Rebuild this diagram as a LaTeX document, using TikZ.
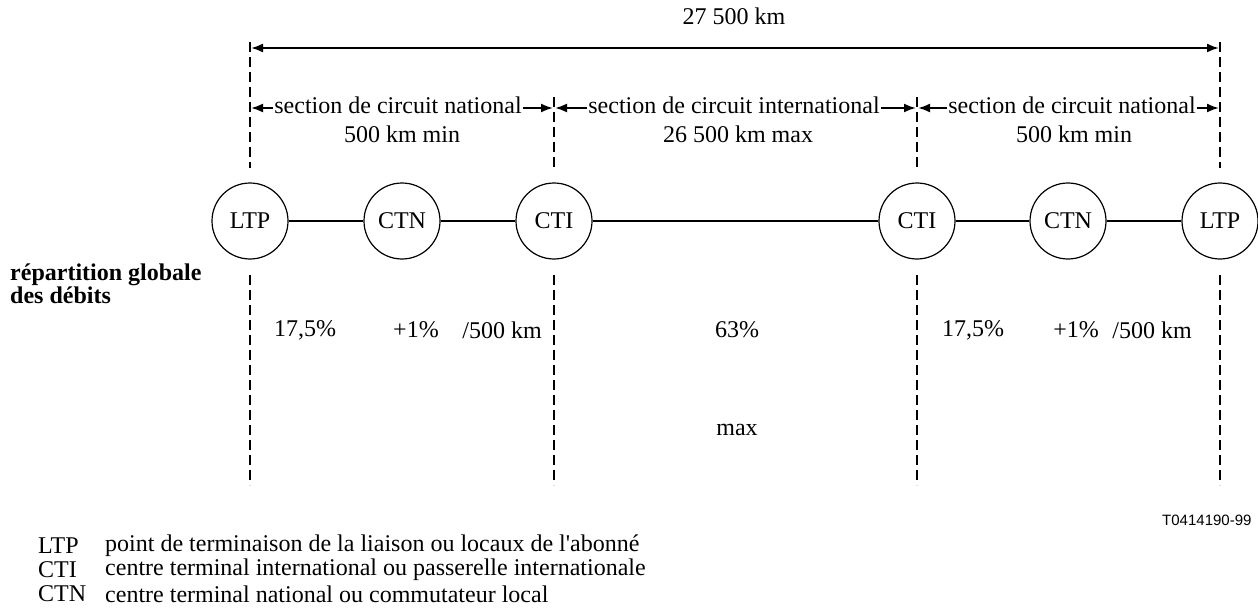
\documentclass[tikz,border=0pt]{standalone}
\usepackage{fontspec}
\setmainfont{Liberation Serif}
\setsansfont{Liberation Sans}
\usetikzlibrary{arrows.meta}
\begin{document}
\begin{tikzpicture}[x=1pt,y=-1pt,
  font=\fontsize{24}{27}\selectfont,
  station/.style={circle,draw,line width=1.2pt,minimum size=76pt,inner sep=0pt},
  link/.style={line width=2pt},
  guide/.style={line width=2pt,dash pattern=on 10pt off 5pt},
  dim/.style={line width=2pt,-{Latex[length=12pt,width=9pt]}},
  dimboth/.style={line width=2pt,{Latex[length=12pt,width=9pt]}-{Latex[length=12pt,width=9pt]}},
  sec/.style={inner sep=1pt}]
\useasboundingbox (0,0) rectangle (1258,615);
% stations
\node[station] (ltpL) at (250,221) {LTP};
\node[station] (ctnL) at (402,221) {CTN};
\node[station] (ctiL) at (554,221) {CTI};
\node[station] (ctiR) at (917,221) {CTI};
\node[station] (ctnR) at (1068,221) {CTN};
\node[station] (ltpR) at (1220,221) {LTP};
\draw[link] (ltpL) -- (ctnL);
\draw[link] (ctnL) -- (ctiL);
\draw[link] (ctiL) -- (ctiR);
\draw[link] (ctiR) -- (ctnR);
\draw[link] (ctnR) -- (ltpR);
% guide coordinates
\coordinate (gA1) at (250,42);  \coordinate (gA2) at (250,168);
\coordinate (gA3) at (250,275); \coordinate (gA4) at (250,485);
\coordinate (gB1) at (554,97);  \coordinate (gB2) at (554,168);
\coordinate (gB3) at (554,275); \coordinate (gB4) at (554,485);
\coordinate (gC1) at (917,97);  \coordinate (gC2) at (917,168);
\coordinate (gC3) at (917,275); \coordinate (gC4) at (917,485);
\coordinate (gD1) at (1220,42);  \coordinate (gD2) at (1220,168);
\coordinate (gD3) at (1220,275); \coordinate (gD4) at (1220,485);
\foreach \g in {A,B,C,D}{
  \draw[guide] (g\g1) -- (g\g2);
  \draw[guide] (g\g3) -- (g\g4);
}
% overall dimension
\coordinate (topL) at (251,48);
\coordinate (topR) at (1219,48);
\draw[dimboth] (topL) -- (topR);
\node (total) at (734,16) {27 500 km};
% section dimensions
\node[sec] (secL) at (398,105) {section de circuit national};
\node[sec] (secM) at (734,105) {section de circuit international};
\node[sec] (secR) at (1072,105) {section de circuit national};
\coordinate (sL1) at (251,108); \coordinate (sL2) at (553,108);
\coordinate (sM1) at (555,108); \coordinate (sM2) at (916,108);
\coordinate (sR1) at (918,108); \coordinate (sR2) at (1219,108);
\draw[dim] (secL.west |- sL1) -- (sL1);
\draw[dim] (secL.east |- sL2) -- (sL2);
\draw[dim] (secM.west |- sM1) -- (sM1);
\draw[dim] (secM.east |- sM2) -- (sM2);
\draw[dim] (secR.west |- sR1) -- (sR1);
\draw[dim] (secR.east |- sR2) -- (sR2);
\node (lenL) at (402,134) {500 km min};
\node (lenM) at (738,134) {26 500 km max};
\node (lenR) at (1074,134) {500 km min};
% left label
\node[align=left,anchor=west,inner sep=0pt,font=\fontsize{24}{23}\selectfont\bfseries] (glob) at (10,284) {répartition globale\\des débits};
% percentages
\node (pL1) at (305,330) {17,5\%};
\node (pL2) at (416,330) {+1\%};
\node (pL3) at (502,330) {/500 km};
\node (pM) at (737,330) {63\%};
\node (pMx) at (737,430) {max};
\node (pR1) at (973,330) {17,5\%};
\node (pR2) at (1076,330) {+1\%};
\node (pR3) at (1152,330) {/500 km};
% figure code
\node[anchor=east,font=\sffamily\fontsize{15}{17}\selectfont] (code) at (1255,520) {T0414190-99};
% legend
\node[anchor=west,inner sep=0pt] (kLTP) at (38,546) {LTP};
\node[anchor=west,inner sep=0pt] (dLTP) at (105,546) {point de terminaison de la liaison ou locaux de l\textquotesingle abonné};
\node[anchor=west,inner sep=0pt] (kCTI) at (38,570) {CTI};
\node[anchor=west,inner sep=0pt] (dCTI) at (105,570) {centre terminal international ou passerelle internationale};
\node[anchor=west,inner sep=0pt] (kCTN) at (38,594) {CTN};
\node[anchor=west,inner sep=0pt] (dCTN) at (105,594) {centre terminal national ou commutateur local};
\end{tikzpicture}
\end{document}
